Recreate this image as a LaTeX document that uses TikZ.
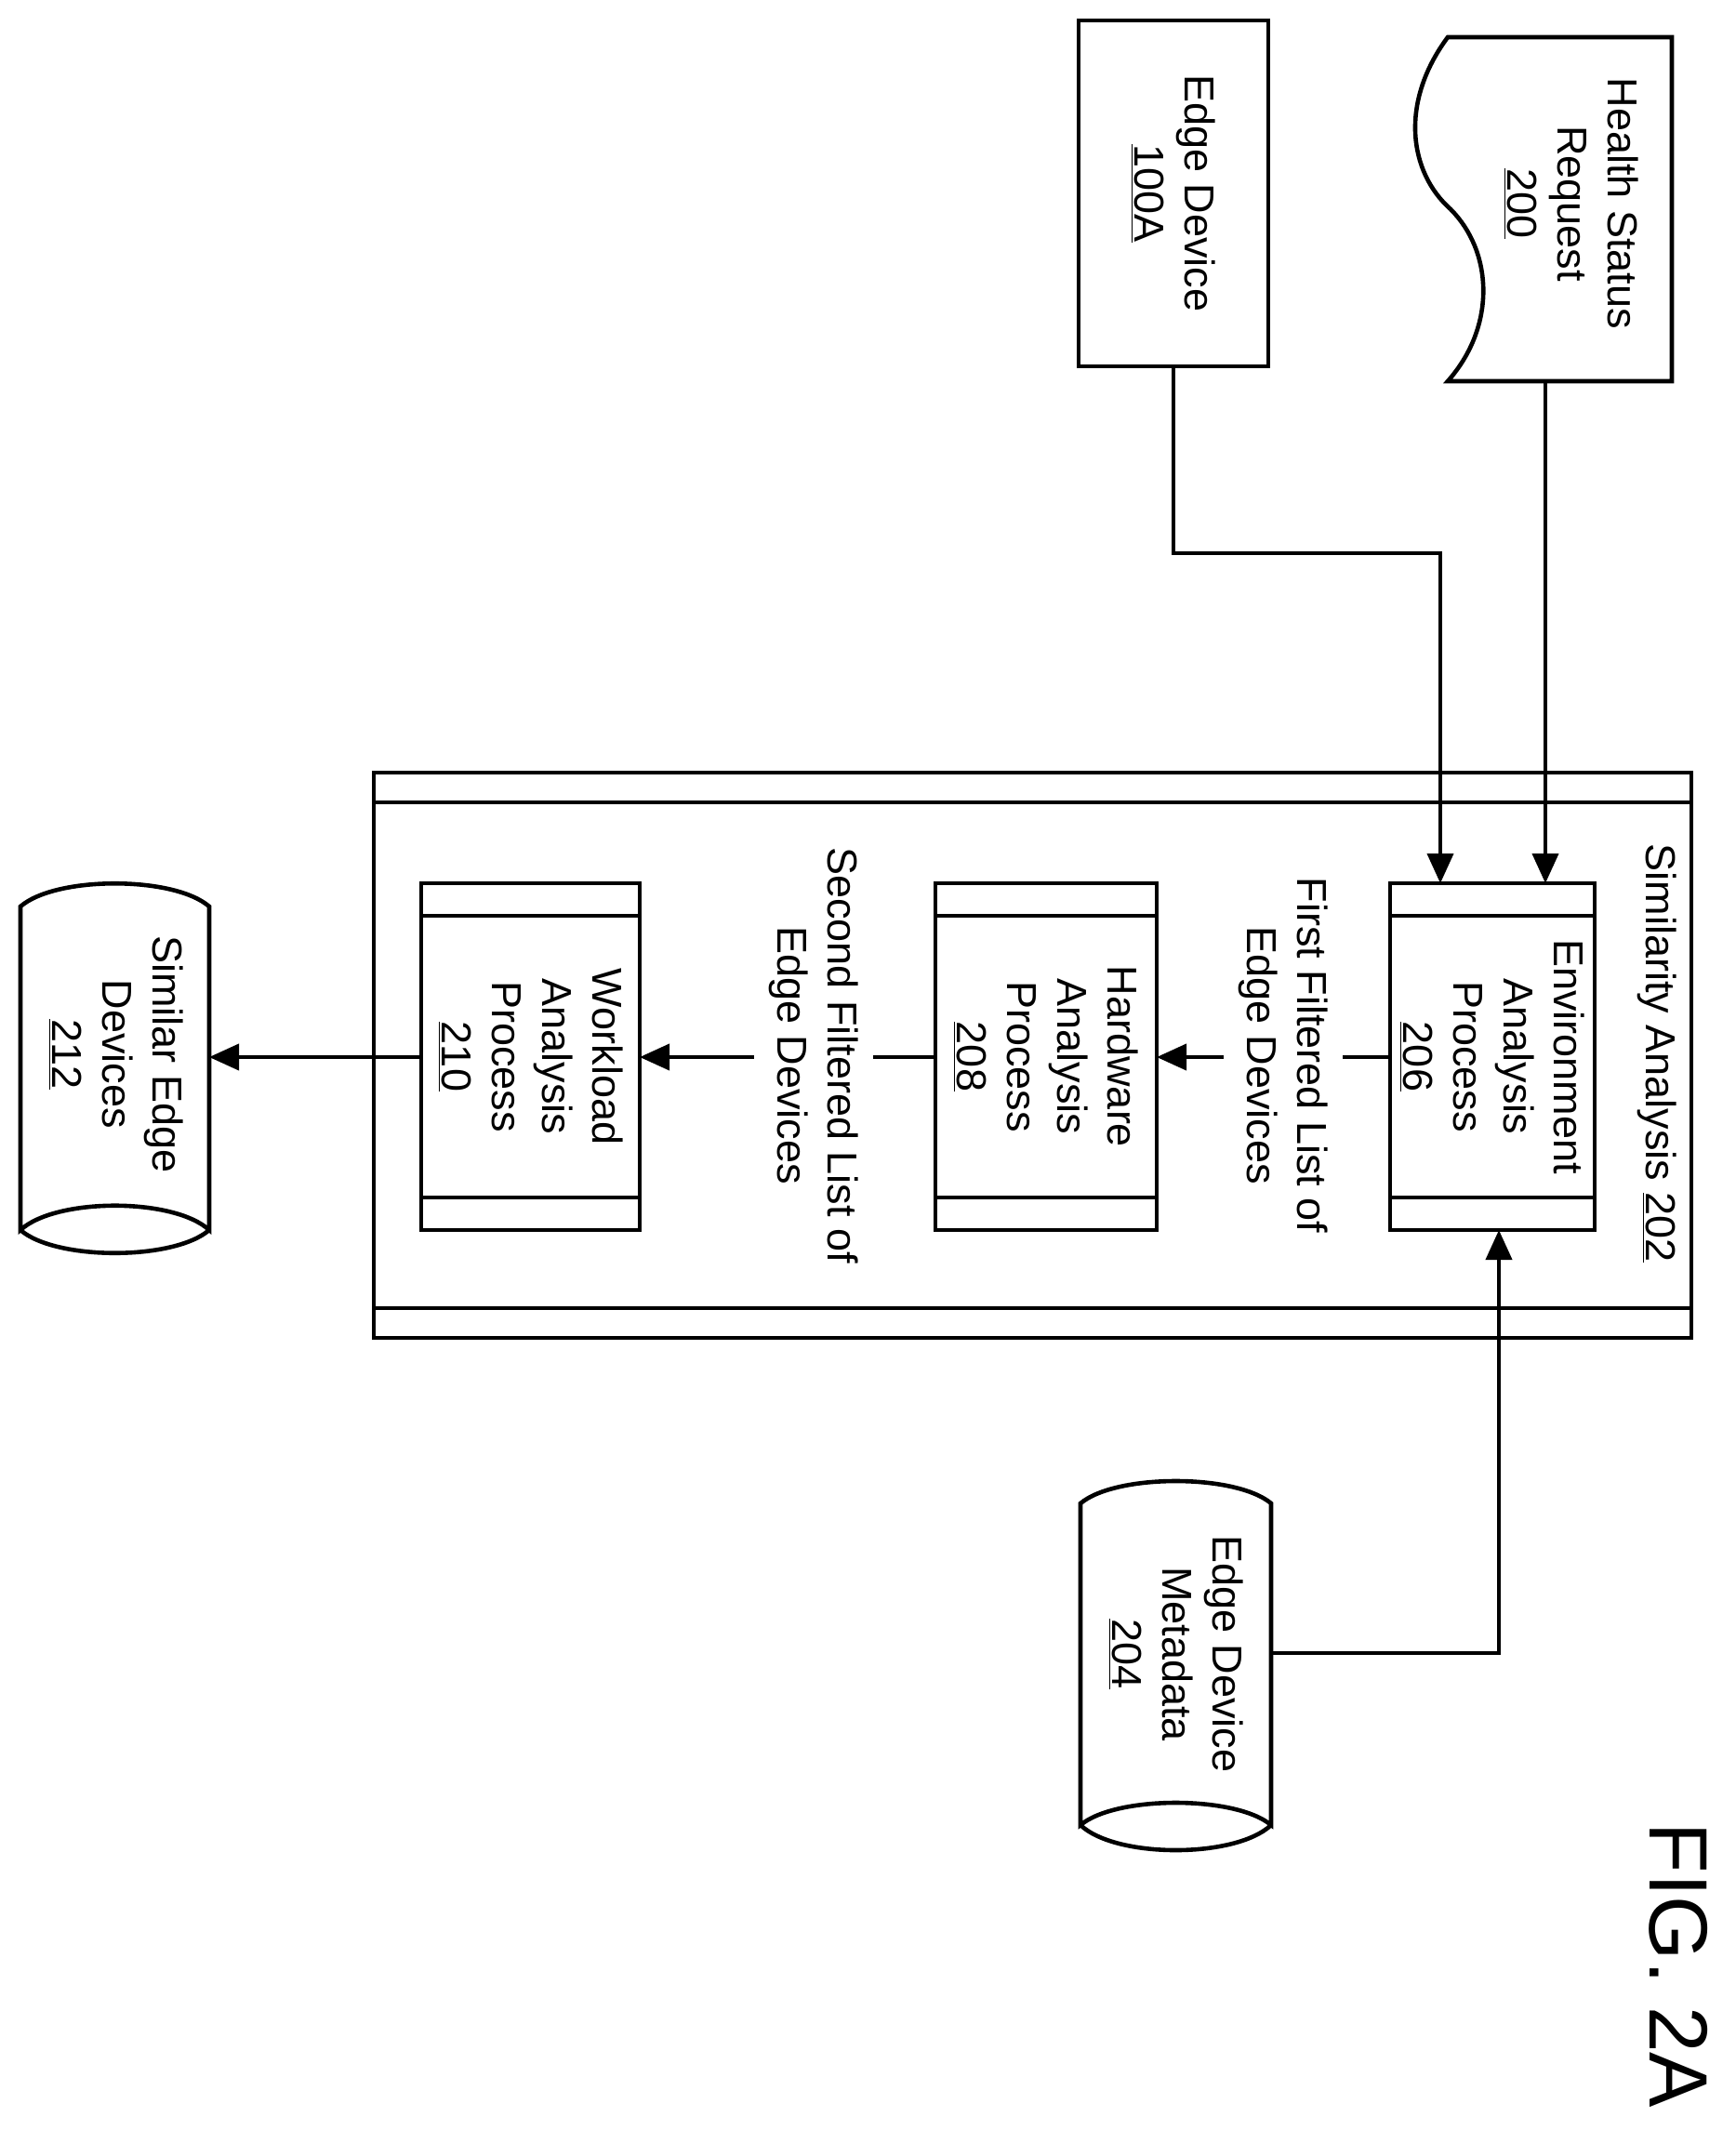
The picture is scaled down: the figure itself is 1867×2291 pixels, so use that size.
\documentclass[tikz,border=0pt]{standalone}
\usepackage{fontspec}
\setmainfont{Liberation Sans}
\usetikzlibrary{arrows.meta}
\begin{document}
\begin{tikzpicture}[x=0.5pt,y=-0.5pt,
  box/.style={draw,line width=2.3pt,minimum width=#1,inner sep=0pt},
  ln/.style={line width=2pt},
  arr/.style={ln,-{Triangle[length=16pt,width=14pt]}},
  txt/.style={rotate=-90,align=center,font=\fontsize{22.5pt}{27pt}\selectfont,inner sep=2pt},
  lab/.style={txt,fill=white,inner sep=8pt}]
\useasboundingbox (0,0) rectangle (1867,2291);
% outer similarity analysis
\node[box=1,minimum width=708.5pt,minimum height=304pt] (sim) at (1110.5,1135) {};
\draw[ln] (402,863) -- (1819,863) (402,1407) -- (1819,1407);
\node[txt] (simt) at (1782,1133) {Similarity Analysis \underline{202}};
% predefined processes
\node[box=1,minimum width=110pt,minimum height=186.5pt] (env) at (1605,1136.5) {};
\node[box=1,minimum width=119pt,minimum height=186.5pt] (hw) at (1125,1136.5) {};
\node[box=1,minimum width=117.5pt,minimum height=186.5pt] (wl) at (570.5,1136.5) {};
\draw[ln] (1495,985) -- (1715,985) (1495,1288) -- (1715,1288)
          (1006,985) -- (1244,985) (1006,1288) -- (1244,1288)
          (453,985) -- (688,985) (453,1288) -- (688,1288);
\node[txt] at (env) {Environment\\Analysis\\Process\\\underline{206}};
\node[txt] at (hw) {Hardware\\Analysis\\Process\\\underline{208}};
\node[txt] at (wl) {Workload\\Analysis\\Process\\\underline{210}};
% edge device
\node[box=1,minimum width=102pt,minimum height=186pt] (ed) at (1262,208) {};
\node[txt] at (ed) {Edge Device\\\underline{100A}};
% health status request
\draw[line width=2.3pt] (1557,40) .. controls (1505,110) and (1515,185) .. (1560,225)
  .. controls (1605,270) and (1610,350) .. (1557,410) -- (1798,410) -- (1798,40) -- cycle;
\coordinate (hs) at (1662,410);
\node[txt] at (1690,219) {Health Status\\Request\\\underline{200}};
% similar edge devices
\draw[line width=2.3pt] (22,975) .. controls (60,942) and (187,942) .. (225,975) -- (225,1323)
  .. controls (187,1288) and (60,1288) .. (22,1323) -- cycle;
\draw[line width=2.3pt] (22,1323) .. controls (60,1356) and (187,1356) .. (225,1323);
\coordinate (sed) at (225,1137);
\node[txt] at (125,1134) {Similar Edge\\Devices\\\underline{212}};
% edge device metadata
\draw[line width=2.3pt] (1162,1617) .. controls (1200,1585) and (1329,1585) .. (1367,1617) -- (1367,1963)
  .. controls (1329,1931) and (1200,1931) .. (1162,1963) -- cycle;
\draw[line width=2.3pt] (1162,1963) .. controls (1200,1999) and (1329,1999) .. (1367,1963);
\coordinate (md) at (1367,1778);
\node[txt] at (1265,1779) {Edge Device\\Metadata\\\underline{204}};
% connectors
\draw[arr] (ed.south) |- (1549,595) -- (1549,950);
\draw[arr] (hs) -- (1662,950);
\draw[arr] (md) -| (1612,1323);
\node[lab] (l1) at (1380,1135) {First Filtered List of\\Edge Devices};
\node[lab] (l2) at (875,1135) {Second Filtered List of\\Edge Devices};
\draw[ln] (1495,1137) -- (l1.north |- 0,1137);
\draw[arr] (l1.south |- 0,1137) -- (1244,1137);
\draw[ln] (1006,1137) -- (l2.north |- 0,1137);
\draw[arr] (l2.south |- 0,1137) -- (688,1137);
\draw[arr] (453,1137) -- (sed);
% figure label
\node[rotate=-90,font=\fontsize{44.5pt}{50pt}\selectfont] (fig) at (1805,2114) {FIG. 2A};
\end{tikzpicture}
\end{document}
